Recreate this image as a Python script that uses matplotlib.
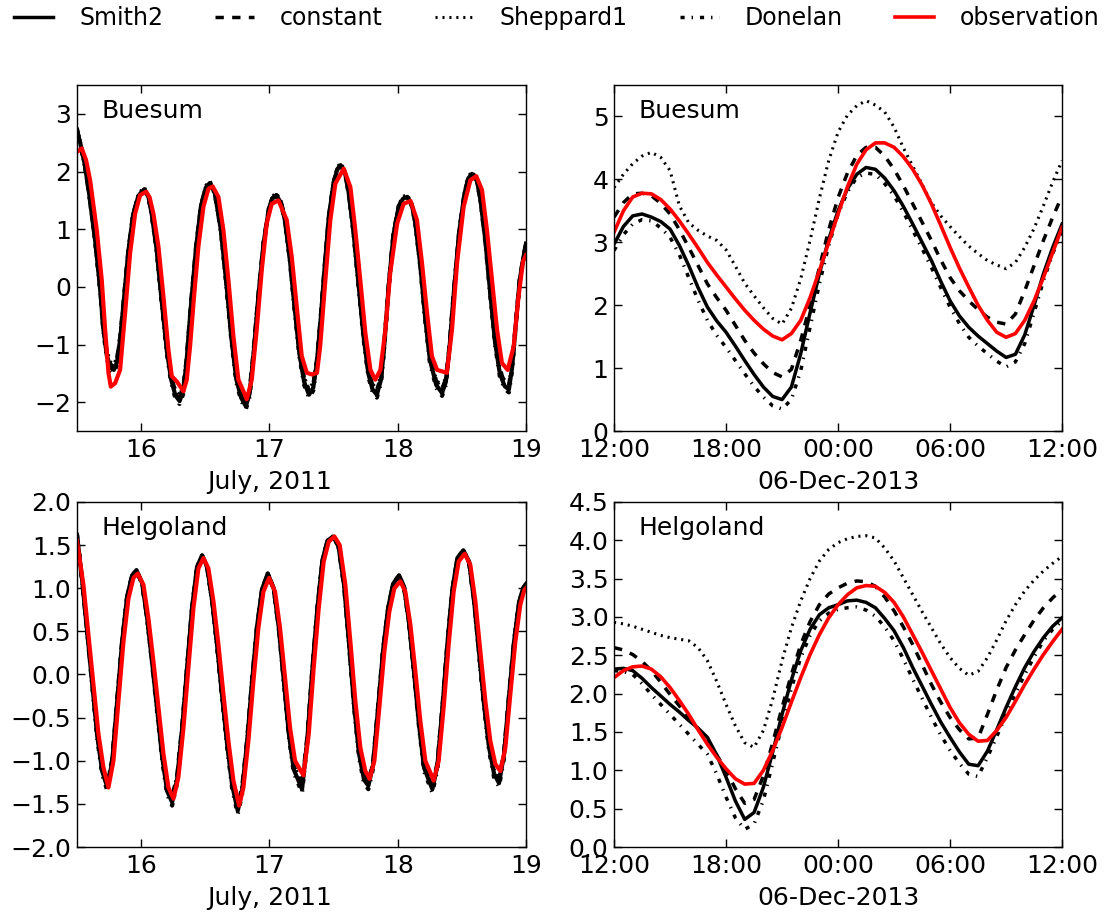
import numpy as np
import matplotlib
matplotlib.use("Agg")
import matplotlib.pyplot as plt
from matplotlib.transforms import blended_transform_factory

# ---- data -----------------------------------------------------------------
# left panels: hours since 15 July 2011 12:00, water level (m)
obs_bu_jul_h = [0.0, 0.9, 1.7, 2.46, 3.71, 4.64, 5.27, 5.89, 6.33, 7.14,
                8.07, 9.0, 9.94, 10.88, 11.81, 12.94, 13.6, 14.3, 15.24, 16.18,
                17.11, 17.74, 18.67, 19.92, 20.54, 21.16, 21.9, 22.72, 23.66, 24.59,
                25.4, 26.46, 27.4, 28.33, 29.27, 30.2, 31.14, 31.76, 32.7, 33.63,
                34.57, 35.5, 36.44, 37.68, 39.24, 40.18, 41.11, 42.05, 43.0, 43.98,
                44.9, 45.5, 46.47, 47.4, 48.34, 49.9, 51.15, 52.08, 53.0, 53.95,
                54.9, 55.8, 56.76, 57.7, 58.6, 59.9, 61.1, 62.4, 63.6, 64.55,
                65.5, 66.4, 67.36, 69.2, 70.16, 71.1, 72.34, 73.6, 74.7, 75.77,
                76.7, 77.64, 78.58, 79.5, 80.57, 81.7, 82.6, 83.44, 84.0]
obs_bu_jul = [2.34, 2.40, 2.20, 1.85, 0.98, 0.12, -0.74, -1.49, -1.73, -1.67,
              -1.44, -0.46, 0.58, 1.27, 1.59, 1.65, 1.55, 1.27, 0.70, -0.17,
              -1.09, -1.55, -1.64, -1.81, -1.61, -1.03, -0.17, 0.70, 1.39, 1.70,
              1.74, 1.56, 0.98, 0.12, -0.86, -1.61, -1.81, -1.95, -1.61, -0.74,
              0.29, 1.10, 1.44, 1.50, 1.16, 0.52, -0.34, -1.20, -1.49, -1.52,
              -1.49, -1.03, 0.12, 1.16, 1.79, 2.05, 1.73, 0.98, 0.12, -0.80,
              -1.44, -1.61, -1.44, -0.74, 0.24, 1.10, 1.44, 1.49, 1.16, 0.41,
              -0.46, -1.20, -1.44, -1.49, -0.74, 0.41, 1.39, 1.85, 1.92, 1.68,
              0.98, 0.12, -0.74, -1.32, -1.44, -1.03, -0.17, 0.44, 0.55]

mod_bu_jul_h = [0.0, 0.6, 1.5, 2.3, 3.4, 4.3, 4.9, 5.6, 6.3, 6.9,
                7.5, 8.1, 8.7, 9.6, 10.5, 11.5, 12.6, 13.4, 14.0, 14.9,
                15.8, 16.8, 17.6, 18.4, 19.2, 19.9, 20.5, 21.3, 22.3, 23.2,
                24.1, 24.9, 25.8, 26.9, 27.9, 28.9, 29.8, 30.7, 31.6, 32.3,
                33.0, 33.9, 34.9, 35.9, 36.5, 37.3, 38.2, 38.9, 39.8, 40.7,
                41.6, 42.5, 43.4, 44.2, 44.9, 45.6, 46.3, 47.1, 48.0, 48.7,
                49.3, 50.1, 50.8, 51.7, 52.6, 53.6, 54.5, 55.3, 56.1, 56.9,
                57.5, 58.3, 59.2, 60.2, 61.0, 61.8, 62.7, 63.3, 64.2, 65.1,
                66.0, 67.2, 68.3, 69.0, 69.7, 70.5, 71.5, 72.5, 73.2, 73.9,
                74.8, 75.5, 76.4, 77.3, 78.2, 79.1, 80.0, 80.8, 81.4, 82.0,
                82.8, 83.5, 84.0]
smith2_bu_jul = [2.72, 2.50, 2.10, 1.60, 0.80, 0.00, -0.70, -1.20, -1.40, -1.44,
                 -1.30, -0.90, -0.30, 0.60, 1.25, 1.58, 1.69, 1.55, 1.25, 0.65,
                 -0.20, -1.10, -1.60, -1.88, -1.98, -1.80, -1.30, -0.35, 0.70, 1.40,
                 1.72, 1.80, 1.62, 1.00, 0.10, -0.90, -1.60, -1.92, -2.07, -1.85,
                 -1.20, -0.20, 0.75, 1.35, 1.53, 1.59, 1.45, 1.15, 0.50, -0.35,
                 -1.15, -1.65, -1.87, -1.75, -1.30, -0.55, 0.30, 1.20, 1.80, 2.04,
                 2.11, 2.00, 1.65, 0.98, 0.12, -0.85, -1.50, -1.78, -1.87, -1.60,
                 -1.00, 0.00, 0.90, 1.40, 1.53, 1.56, 1.40, 1.10, 0.40, -0.50,
                 -1.25, -1.70, -1.84, -1.65, -1.05, -0.10, 0.95, 1.62, 1.88, 1.96,
                 1.85, 1.50, 0.80, -0.10, -0.95, -1.50, -1.72, -1.78, -1.40, -0.75,
                 0.10, 0.50, 0.75]
constant_bu_jul = [2.70, 2.48, 2.09, 1.60, 0.82, 0.03, -0.66, -1.15, -1.35, -1.39,
                   -1.25, -0.86, -0.27, 0.62, 1.26, 1.58, 1.69, 1.56, 1.27, 0.68,
                   -0.17, -1.06, -1.55, -1.82, -1.92, -1.75, -1.26, -0.32, 0.72, 1.41,
                   1.72, 1.80, 1.63, 1.02, 0.13, -0.86, -1.55, -1.86, -2.01, -1.80,
                   -1.16, -0.17, 0.77, 1.36, 1.53, 1.59, 1.46, 1.17, 0.53, -0.32,
                   -1.11, -1.60, -1.81, -1.70, -1.26, -0.52, 0.32, 1.21, 1.80, 2.03,
                   2.10, 2.00, 1.66, 1.00, 0.15, -0.81, -1.45, -1.72, -1.81, -1.55,
                   -0.96, 0.03, 0.92, 1.40, 1.53, 1.56, 1.41, 1.12, 0.43, -0.46,
                   -1.20, -1.64, -1.78, -1.60, -1.01, -0.07, 0.96, 1.62, 1.87, 1.95,
                   1.85, 1.51, 0.82, -0.07, -0.91, -1.45, -1.66, -1.72, -1.35, -0.72,
                   0.12, 0.51, 0.75]
sheppard1_bu_jul = [2.76, 2.54, 2.14, 1.64, 0.85, 0.06, -0.62, -1.10, -1.30, -1.34,
                    -1.20, -0.82, -0.24, 0.65, 1.29, 1.62, 1.73, 1.59, 1.29, 0.70,
                    -0.14, -1.02, -1.50, -1.78, -1.88, -1.70, -1.21, -0.29, 0.75, 1.44,
                    1.76, 1.84, 1.66, 1.04, 0.15, -0.82, -1.50, -1.82, -1.97, -1.75,
                    -1.11, -0.14, 0.80, 1.39, 1.57, 1.63, 1.49, 1.19, 0.55, -0.29,
                    -1.06, -1.55, -1.77, -1.65, -1.21, -0.48, 0.35, 1.24, 1.84, 2.08,
                    2.15, 2.04, 1.69, 1.02, 0.17, -0.78, -1.41, -1.68, -1.77, -1.50,
                    -0.92, 0.06, 0.95, 1.44, 1.57, 1.60, 1.44, 1.14, 0.45, -0.43,
                    -1.16, -1.60, -1.74, -1.56, -0.97, -0.04, 0.99, 1.66, 1.92, 2.00,
                    1.89, 1.54, 0.84, -0.05, -0.87, -1.41, -1.62, -1.68, -1.31, -0.68,
                    0.14, 0.54, 0.78]
donelan_bu_jul = [2.74, 2.51, 2.10, 1.59, 0.78, -0.03, -0.74, -1.25, -1.45, -1.49,
                  -1.35, -0.94, -0.33, 0.58, 1.24, 1.57, 1.68, 1.54, 1.23, 0.62,
                  -0.24, -1.15, -1.65, -1.93, -2.03, -1.85, -1.35, -0.39, 0.67, 1.38,
                  1.71, 1.79, 1.61, 0.98, 0.06, -0.95, -1.65, -1.97, -2.12, -1.90,
                  -1.25, -0.24, 0.72, 1.33, 1.52, 1.58, 1.44, 1.13, 0.47, -0.39,
                  -1.20, -1.70, -1.92, -1.80, -1.35, -0.59, 0.27, 1.18, 1.79, 2.03,
                  2.10, 1.99, 1.63, 0.95, 0.08, -0.90, -1.55, -1.83, -1.92, -1.65,
                  -1.05, -0.04, 0.87, 1.38, 1.52, 1.55, 1.39, 1.08, 0.37, -0.55,
                  -1.30, -1.75, -1.89, -1.70, -1.10, -0.14, 0.92, 1.60, 1.87, 1.95,
                  1.84, 1.48, 0.77, -0.14, -1.00, -1.55, -1.77, -1.83, -1.45, -0.79,
                  0.06, 0.47, 0.72]

obs_he_jul_h = [0.0, 1.21, 2.15, 3.09, 4.02, 4.96, 5.89, 6.83, 7.76, 8.70,
                9.63, 10.57, 11.38, 12.44, 13.37, 14.31, 15.24, 16.18, 17.11, 18.05,
                18.98, 19.92, 20.85, 21.79, 22.72, 23.66, 24.59, 25.53, 26.46, 27.40,
                28.33, 29.27, 30.33, 31.14, 32.07, 33.01, 33.94, 34.88, 35.94, 37.06,
                37.99, 38.93, 39.87, 40.80, 42.36, 43.36, 44.29, 45.23, 46.16, 47.10,
                48.16, 49.15, 50.21, 51.15, 52.08, 53.02, 53.95, 54.76, 55.64, 56.57,
                57.51, 58.44, 59.38, 60.50, 61.43, 62.37, 63.30, 64.24, 65.17, 66.73,
                67.67, 68.60, 69.54, 70.47, 71.41, 72.53, 73.59, 74.53, 75.46, 76.40,
                77.33, 78.27, 79.20, 80.14, 81.07, 82.01, 82.94, 83.69, 84.0]
obs_he_jul = [1.55, 1.04, 0.46, -0.12, -0.69, -1.08, -1.31, -1.00, -0.31, 0.38,
              0.88, 1.12, 1.17, 1.04, 0.65, 0.15, -0.38, -0.92, -1.31, -1.44,
              -1.19, -0.62, 0.08, 0.77, 1.23, 1.35, 1.23, 0.85, 0.35, -0.23,
              -0.77, -1.23, -1.52, -1.31, -0.77, -0.08, 0.54, 0.96, 1.12, 0.96,
              0.54, -0.04, -0.62, -1.00, -1.17, -0.69, 0.08, 0.77, 1.31, 1.54,
              1.60, 1.50, 1.04, 0.38, -0.31, -0.85, -1.12, -1.21, -1.00, -0.38,
              0.27, 0.73, 1.00, 1.08, 0.96, 0.58, 0.04, -0.54, -1.00, -1.23,
              -1.00, -0.38, 0.35, 0.96, 1.31, 1.40, 1.27, 0.85, 0.27, -0.31,
              -0.77, -1.04, -1.12, -0.85, -0.23, 0.38, 0.81, 0.98, 1.00]

mod_he_jul_h = [0.0, 0.96, 1.90, 2.84, 3.77, 4.71, 5.64, 6.58, 7.51, 8.45,
                9.38, 10.32, 11.13, 12.19, 13.12, 14.06, 14.99, 15.93, 16.86, 17.80,
                18.73, 19.67, 20.60, 21.54, 22.47, 23.41, 24.34, 25.28, 26.21, 27.15,
                28.08, 29.02, 30.08, 30.89, 31.82, 32.76, 33.69, 34.63, 35.69, 36.81,
                37.74, 38.68, 39.62, 40.55, 42.11, 43.11, 44.04, 44.98, 45.91, 46.85,
                47.91, 48.90, 49.96, 50.90, 51.83, 52.77, 53.70, 54.51, 55.39, 56.32,
                57.26, 58.19, 59.13, 60.25, 61.18, 62.12, 63.05, 63.99, 64.92, 66.48,
                67.42, 68.35, 69.29, 70.22, 71.16, 72.28, 73.34, 74.28, 75.21, 76.15,
                77.08, 78.02, 78.95, 79.89, 80.82, 81.76, 82.69, 83.44, 84.0]
smith2_he_jul = [1.62, 1.10, 0.50, -0.10, -0.70, -1.12, -1.30, -1.02, -0.32, 0.38,
                 0.90, 1.15, 1.21, 1.06, 0.66, 0.14, -0.40, -0.95, -1.35, -1.48,
                 -1.22, -0.63, 0.08, 0.78, 1.25, 1.38, 1.25, 0.86, 0.34, -0.25,
                 -0.80, -1.28, -1.58, -1.35, -0.79, -0.08, 0.56, 0.99, 1.17, 1.00,
                 0.55, -0.06, -0.68, -1.10, -1.33, -0.74, 0.06, 0.77, 1.32, 1.55,
                 1.60, 1.50, 1.04, 0.36, -0.35, -0.92, -1.22, -1.29, -1.05, -0.40,
                 0.28, 0.76, 1.05, 1.15, 1.02, 0.60, 0.03, -0.58, -1.08, -1.33,
                 -1.06, -0.40, 0.35, 0.98, 1.35, 1.44, 1.31, 0.86, 0.26, -0.35,
                 -0.84, -1.15, -1.26, -0.93, -0.26, 0.38, 0.83, 1.00, 1.05]
constant_he_jul = [1.60, 1.09, 0.50, -0.08, -0.67, -1.08, -1.26, -0.99, -0.30, 0.39,
                   0.90, 1.14, 1.20, 1.05, 0.66, 0.15, -0.38, -0.92, -1.31, -1.43,
                   -1.18, -0.60, 0.09, 0.78, 1.24, 1.37, 1.24, 0.86, 0.35, -0.23,
                   -0.77, -1.24, -1.53, -1.31, -0.76, -0.06, 0.56, 0.98, 1.16, 0.99,
                   0.55, -0.05, -0.66, -1.06, -1.29, -0.71, 0.07, 0.77, 1.31, 1.54,
                   1.59, 1.49, 1.04, 0.37, -0.33, -0.89, -1.18, -1.25, -1.02, -0.38,
                   0.29, 0.76, 1.04, 1.14, 1.01, 0.60, 0.04, -0.56, -1.05, -1.29,
                   -1.03, -0.38, 0.36, 0.98, 1.34, 1.43, 1.30, 0.86, 0.27, -0.33,
                   -0.81, -1.11, -1.22, -0.90, -0.24, 0.39, 0.83, 1.00, 1.04]
sheppard1_he_jul = [1.61, 1.10, 0.51, -0.07, -0.65, -1.06, -1.24, -0.97, -0.29, 0.40,
                    0.91, 1.15, 1.21, 1.06, 0.67, 0.16, -0.36, -0.90, -1.29, -1.42,
                    -1.16, -0.59, 0.10, 0.79, 1.25, 1.38, 1.25, 0.87, 0.36, -0.22,
                    -0.75, -1.22, -1.52, -1.29, -0.75, -0.05, 0.57, 0.99, 1.17, 1.00,
                    0.56, -0.04, -0.64, -1.04, -1.27, -0.70, 0.08, 0.78, 1.32, 1.55,
                    1.60, 1.50, 1.05, 0.38, -0.32, -0.88, -1.16, -1.23, -1.00, -0.37,
                    0.30, 0.77, 1.05, 1.15, 1.02, 0.61, 0.05, -0.55, -1.03, -1.27,
                    -1.01, -0.37, 0.37, 0.99, 1.35, 1.44, 1.31, 0.87, 0.28, -0.32,
                    -0.80, -1.10, -1.20, -0.89, -0.23, 0.40, 0.84, 1.00, 1.05]
donelan_he_jul = [1.63, 1.10, 0.49, -0.12, -0.73, -1.16, -1.34, -1.05, -0.34, 0.37,
                  0.90, 1.15, 1.21, 1.06, 0.65, 0.12, -0.43, -0.99, -1.39, -1.52,
                  -1.26, -0.66, 0.06, 0.77, 1.25, 1.38, 1.25, 0.85, 0.32, -0.28,
                  -0.84, -1.32, -1.62, -1.39, -0.82, -0.10, 0.55, 0.99, 1.17, 1.00,
                  0.54, -0.08, -0.71, -1.14, -1.37, -0.77, 0.04, 0.76, 1.32, 1.55,
                  1.60, 1.50, 1.03, 0.34, -0.38, -0.96, -1.26, -1.33, -1.09, -0.43,
                  0.26, 0.75, 1.05, 1.15, 1.02, 0.59, 0.01, -0.61, -1.12, -1.37,
                  -1.10, -0.43, 0.33, 0.97, 1.35, 1.44, 1.31, 0.85, 0.24, -0.38,
                  -0.88, -1.19, -1.30, -0.97, -0.29, 0.36, 0.82, 0.99, 1.05]

# right panels: half-hourly, 06 Dec 2013 12:00 -> 07 Dec 2013 12:00
dec_hours = np.arange(49) * 0.5
obs_bu_dec = [3.16, 3.50, 3.72, 3.78, 3.77, 3.68, 3.53, 3.34, 3.13, 2.91, 2.68, 2.48,
              2.29, 2.10, 1.92, 1.76, 1.62, 1.51, 1.45, 1.55, 1.76, 2.12, 2.55, 3.00,
              3.45, 3.88, 4.24, 4.47, 4.58, 4.58, 4.51, 4.36, 4.16, 3.91, 3.61, 3.27,
              2.92, 2.59, 2.29, 2.00, 1.76, 1.57, 1.49, 1.55, 1.76, 2.07, 2.44, 2.84,
              3.24]
smith2_bu_dec = [2.97, 3.25, 3.42, 3.45, 3.40, 3.33, 3.21, 2.95, 2.63, 2.28, 1.97, 1.75,
                 1.57, 1.35, 1.12, 0.90, 0.70, 0.55, 0.50, 0.70, 1.23, 1.88, 2.50, 3.05,
                 3.50, 3.85, 4.08, 4.19, 4.16, 4.02, 3.82, 3.57, 3.29, 3.00, 2.71, 2.38,
                 2.07, 1.83, 1.65, 1.51, 1.39, 1.27, 1.17, 1.22, 1.53, 2.00, 2.50, 2.92,
                 3.29]
constant_bu_dec = [3.40, 3.63, 3.77, 3.78, 3.74, 3.62, 3.45, 3.20, 2.92, 2.63, 2.34, 2.12,
                   1.92, 1.68, 1.44, 1.24, 1.07, 0.93, 0.86, 0.98, 1.44, 2.00, 2.60, 3.20,
                   3.71, 4.10, 4.38, 4.51, 4.51, 4.37, 4.16, 3.90, 3.61, 3.32, 3.03, 2.72,
                   2.44, 2.23, 2.07, 1.93, 1.81, 1.73, 1.70, 1.86, 2.23, 2.63, 3.03, 3.40,
                   3.74]
sheppard1_bu_dec = [3.87, 4.08, 4.25, 4.37, 4.43, 4.35, 4.14, 3.58, 3.31, 3.19, 3.10, 3.03,
                    2.88, 2.62, 2.35, 2.15, 1.96, 1.79, 1.70, 1.95, 2.42, 3.03, 3.70, 4.30,
                    4.75, 5.02, 5.17, 5.25, 5.18, 5.07, 4.83, 4.50, 4.21, 3.92, 3.63, 3.42,
                    3.25, 3.09, 2.94, 2.82, 2.71, 2.64, 2.58, 2.68, 2.92, 3.22, 3.58, 3.96,
                    4.30]
donelan_bu_dec = [2.87, 3.12, 3.29, 3.36, 3.34, 3.23, 3.08, 2.80, 2.44, 2.08, 1.76, 1.52,
                  1.33, 1.12, 0.91, 0.71, 0.54, 0.40, 0.35, 0.50, 0.96, 1.65, 2.34, 2.95,
                  3.45, 3.80, 4.03, 4.10, 4.08, 3.93, 3.74, 3.48, 3.19, 2.90, 2.60, 2.28,
                  1.97, 1.71, 1.49, 1.35, 1.23, 1.11, 1.02, 1.10, 1.39, 1.88, 2.39, 2.82,
                  3.19]

obs_he_dec = [2.21, 2.30, 2.35, 2.36, 2.32, 2.22, 2.08, 1.91, 1.73, 1.53, 1.34, 1.17,
              1.02, 0.89, 0.82, 0.83, 1.00, 1.26, 1.56, 1.89, 2.21, 2.51, 2.77, 2.99,
              3.16, 3.29, 3.38, 3.41, 3.40, 3.32, 3.19, 3.00, 2.77, 2.54, 2.30, 2.06,
              1.82, 1.62, 1.47, 1.38, 1.39, 1.52, 1.69, 1.90, 2.12, 2.32, 2.51, 2.68,
              2.84]
smith2_he_dec = [2.32, 2.33, 2.30, 2.20, 2.08, 1.97, 1.86, 1.76, 1.65, 1.55, 1.43, 1.20,
                 0.91, 0.60, 0.36, 0.45, 0.78, 1.24, 1.73, 2.18, 2.56, 2.84, 3.03, 3.12,
                 3.16, 3.21, 3.22, 3.19, 3.12, 2.98, 2.82, 2.60, 2.34, 2.10, 1.86, 1.63,
                 1.43, 1.24, 1.08, 1.06, 1.25, 1.53, 1.82, 2.09, 2.34, 2.55, 2.73, 2.88,
                 2.99]
constant_he_dec = [2.60, 2.57, 2.51, 2.42, 2.30, 2.15, 1.99, 1.84, 1.69, 1.54, 1.39, 1.20,
                   1.00, 0.76, 0.57, 0.62, 0.93, 1.36, 1.82, 2.25, 2.64, 2.94, 3.16, 3.30,
                   3.38, 3.44, 3.47, 3.46, 3.40, 3.26, 3.08, 2.87, 2.64, 2.38, 2.12, 1.89,
                   1.69, 1.53, 1.41, 1.42, 1.73, 2.05, 2.34, 2.57, 2.77, 2.96, 3.12, 3.25,
                   3.36]
sheppard1_he_dec = [2.93, 2.91, 2.88, 2.84, 2.80, 2.76, 2.73, 2.71, 2.69, 2.60, 2.43, 2.16,
                    1.86, 1.58, 1.36, 1.30, 1.52, 1.93, 2.43, 2.86, 3.21, 3.50, 3.73, 3.88,
                    3.97, 4.02, 4.05, 4.06, 4.03, 3.90, 3.73, 3.51, 3.29, 3.07, 2.86, 2.65,
                    2.47, 2.33, 2.24, 2.29, 2.47, 2.70, 2.95, 3.16, 3.34, 3.48, 3.60, 3.70,
                    3.79]
donelan_he_dec = [2.30, 2.29, 2.25, 2.13, 1.99, 1.86, 1.73, 1.60, 1.47, 1.34, 1.21, 0.95,
                  0.65, 0.38, 0.23, 0.30, 0.61, 1.10, 1.60, 2.07, 2.47, 2.76, 2.95, 3.05,
                  3.10, 3.12, 3.13, 3.09, 3.01, 2.87, 2.69, 2.45, 2.19, 1.94, 1.69, 1.46,
                  1.26, 1.09, 0.95, 0.92, 1.17, 1.44, 1.73, 2.00, 2.25, 2.48, 2.69, 2.84,
                  2.95]

dec_ticklabels = ['12:00', '18:00', '00:00', '06:00', '12:00']

# ---- style ----------------------------------------------------------------
plt.rcParams['font.family'] = 'DejaVu Sans'
plt.rcParams['font.size'] = 18
plt.rcParams['lines.scale_dashes'] = False
for ax_ in ('xtick', 'ytick'):
    plt.rcParams[ax_ + '.direction'] = 'in'
    plt.rcParams[ax_ + '.major.size'] = 6
    plt.rcParams[ax_ + '.major.width'] = 1
    plt.rcParams[ax_ + '.labelsize'] = 18
plt.rcParams['xtick.top'] = True
plt.rcParams['ytick.right'] = True
plt.rcParams['xtick.major.pad'] = 5
plt.rcParams['ytick.major.pad'] = 4
plt.rcParams['axes.linewidth'] = 1.0

styles = {
    'Smith2': dict(color='black', lw=2.5, ls='-'),
    'constant': dict(color='black', lw=2.5, ls=(0, (6, 6))),
    'Sheppard1': dict(color='black', lw=2.2, ls=(0, (1.5, 3.5))),
    'Donelan': dict(color='black', lw=2.5, ls=(0, (3, 5, 1, 5))),
    'observation': dict(color='red', lw=2.6, ls='-'),
}

fig = plt.figure(figsize=(11.09, 9.14), dpi=100)
ax_tl = fig.add_axes([0.0694, 0.5284, 0.4049, 0.3786])
ax_tr = fig.add_axes([0.5537, 0.5284, 0.4040, 0.3786])
ax_bl = fig.add_axes([0.0694, 0.0733, 0.4049, 0.3775])
ax_br = fig.add_axes([0.5537, 0.0733, 0.4040, 0.3775])


def jul_days(hours):
    return 15.5 + np.asarray(hours) / 24.0


def draw_july(ax, mod_h, smith2, constant, sheppard1, donelan, obs_h, obs, station, yticks):
    x = jul_days(mod_h)
    ax.plot(x, smith2, **dict(styles['Smith2'], lw=3.0))
    ax.plot(x, constant, **dict(styles['constant'], lw=3.0))
    ax.plot(x, sheppard1, **styles['Sheppard1'])
    ax.plot(x, donelan, **dict(styles['Donelan'], lw=3.0))
    ax.plot(jul_days(obs_h), obs, **dict(styles['observation'], lw=3.0))
    ax.set_xlim(15.5, 19)
    ax.set_xticks([16, 17, 18, 19])
    ax.set_yticks(yticks)
    ax.text(0.054, 0.925, station, transform=ax.transAxes, va='center', fontsize=18)
    tr = blended_transform_factory(ax.transData, ax.transAxes)
    ax.text(17, -0.147, 'July, 2011', transform=tr, ha='center', va='center', fontsize=18)


def draw_dec(ax, smith2, constant, sheppard1, donelan, obs, station, yticks):
    ax.plot(dec_hours, smith2, **styles['Smith2'])
    ax.plot(dec_hours, constant, **styles['constant'])
    ax.plot(dec_hours, sheppard1, **styles['Sheppard1'])
    ax.plot(dec_hours, donelan, **styles['Donelan'])
    ax.plot(dec_hours, obs, **styles['observation'])
    ax.set_xlim(0, 24)
    ax.set_xticks([0, 6, 12, 18, 24])
    ax.set_xticklabels(dec_ticklabels)
    ax.set_yticks(yticks)
    ax.text(0.054, 0.925, station, transform=ax.transAxes, va='center', fontsize=18)
    tr = blended_transform_factory(ax.transData, ax.transAxes)
    ax.text(12, -0.147, '06-Dec-2013', transform=tr, ha='center', va='center', fontsize=18)


draw_july(ax_tl, mod_bu_jul_h, smith2_bu_jul, constant_bu_jul, sheppard1_bu_jul,
          donelan_bu_jul, obs_bu_jul_h, obs_bu_jul, 'Buesum', [-2, -1, 0, 1, 2, 3])
ax_tl.set_ylim(-2.5, 3.5)

draw_july(ax_bl, mod_he_jul_h, smith2_he_jul, constant_he_jul, sheppard1_he_jul,
          donelan_he_jul, obs_he_jul_h, obs_he_jul, 'Helgoland',
          [-2.0, -1.5, -1.0, -0.5, 0.0, 0.5, 1.0, 1.5, 2.0])
ax_bl.set_ylim(-2.0, 2.0)

draw_dec(ax_tr, smith2_bu_dec, constant_bu_dec, sheppard1_bu_dec, donelan_bu_dec,
         obs_bu_dec, 'Buesum', [0, 1, 2, 3, 4, 5])
ax_tr.set_ylim(0, 5.5)

draw_dec(ax_br, smith2_he_dec, constant_he_dec, sheppard1_he_dec, donelan_he_dec,
         obs_he_dec, 'Helgoland', [0.0, 0.5, 1.0, 1.5, 2.0, 2.5, 3.0, 3.5, 4.0, 4.5])
ax_br.set_ylim(0, 4.5)

handles = ax_tr.get_lines()
labels = ['Smith2', 'constant', 'Sheppard1', 'Donelan', 'observation']
fig.legend(handles, labels, loc='center', bbox_to_anchor=(0.502, 0.980), ncol=5,
           frameon=False, fontsize=17, handlelength=1.65, handletextpad=1.1,
           columnspacing=2.2)

fig.savefig('out.png', dpi=100)
